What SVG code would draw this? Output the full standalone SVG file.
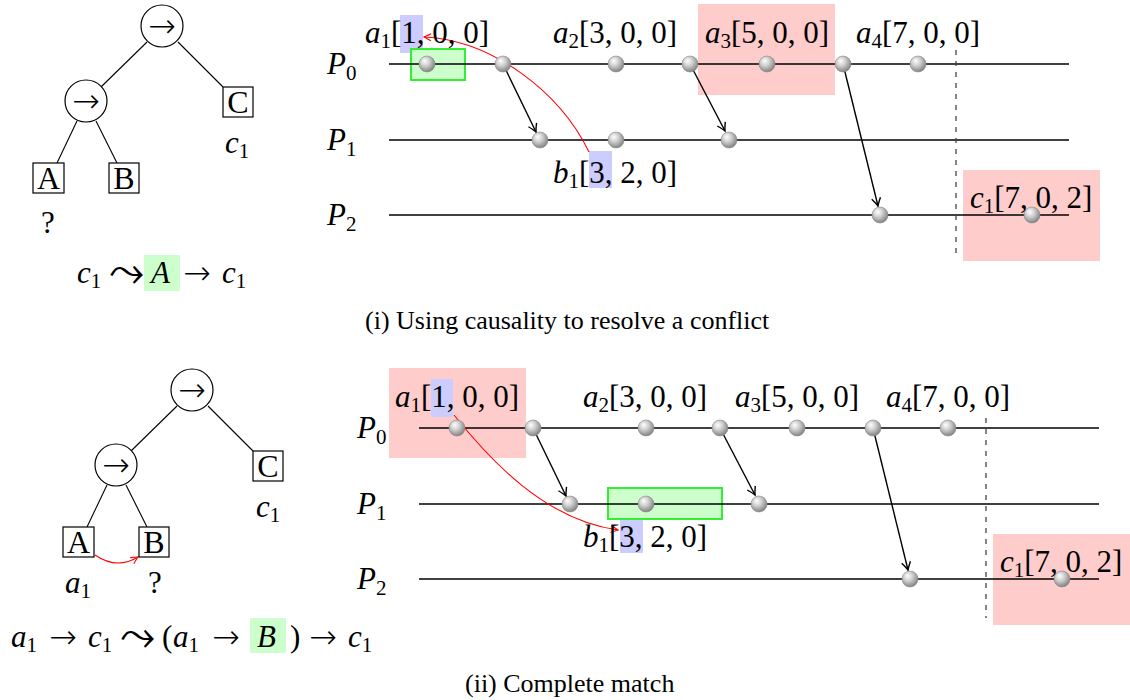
<svg xmlns="http://www.w3.org/2000/svg" width="1130" height="700" viewBox="0 0 1130 700">
<style>
text{font-family:"Liberation Serif","DejaVu Serif",serif;fill:#000}
.lbl{font-size:31px}
.it{font-style:italic}
.sub{font-size:21px;font-style:normal}
.arr{font-family:"DejaVu Sans",sans-serif;font-weight:200;font-size:33px}
.sym{font-family:"DejaVu Sans",sans-serif;font-weight:200;font-size:44px}
.box{font-size:32px}
.cap{font-size:26px}
.tl{stroke:#000;stroke-width:1.4}
.edge{stroke:#000;stroke-width:1.1;fill:none}
.node{fill:#fff;stroke:#000;stroke-width:1.2}
.ball{fill:url(#ball);stroke:#8a8a8a;stroke-width:0.6}
.msg{stroke:#000;stroke-width:1.4;fill:none;marker-end:url(#ah)}
.red{stroke:#f00;stroke-width:1.1;fill:none;marker-end:url(#rah)}
.dash{stroke:#444;stroke-width:1.3;stroke-dasharray:5 6}
.hr{fill:#ffcccc}
.hb{fill:#ccccff}
.hg{fill:#ccffcc;stroke:#33ee33;stroke-width:2}
.hgf{fill:#ccffcc}
</style>
<defs>
<radialGradient id="ball" cx="0.42" cy="0.38" r="0.62" fx="0.35" fy="0.3">
<stop offset="0" stop-color="#ffffff"/>
<stop offset="0.45" stop-color="#d0d0d0"/>
<stop offset="1" stop-color="#838383"/>
</radialGradient>
<marker id="ah" viewBox="-10 -6 12 12" markerWidth="12" markerHeight="12" refX="0" refY="0" orient="auto" markerUnits="userSpaceOnUse">
<path d="M-8,-4.5 Q-2.5,-1 0,0 Q-2.5,1 -8,4.5" fill="none" stroke="#000" stroke-width="1.4"/>
</marker>
<marker id="rah" viewBox="-10 -6 12 12" markerWidth="12" markerHeight="12" refX="0" refY="0" orient="auto" markerUnits="userSpaceOnUse">
<path d="M-7,-3.5 Q-2,-0.8 0,0 Q-2,0.8 -7,3.5" fill="none" stroke="#f00" stroke-width="1.2"/>
</marker>
</defs>

<!-- ============ Panel (i) ============ -->
<g id="panel1">
  <g id="tree1">
    <g id="tree1-edges">
      <line class="edge" x1="147" y1="42" x2="101" y2="87"/>
      <line class="edge" x1="178" y1="42" x2="223" y2="87"/>
      <line class="edge" x1="77" y1="121" x2="57" y2="163"/>
      <line class="edge" x1="96" y1="121" x2="117" y2="163"/>
    </g>
    <g id="t1-root"><circle class="node" cx="162" cy="26" r="21"/><text class="arr" x="162" y="37" text-anchor="middle">→</text></g>
    <g id="t1-seq"><circle class="node" cx="86" cy="101" r="21"/><text class="arr" x="86" y="112" text-anchor="middle">→</text></g>
    <g id="t1-A"><rect class="node" x="33" y="163" width="31" height="30"/><text class="box" x="48.5" y="189" text-anchor="middle">A</text></g>
    <g id="t1-B"><rect class="node" x="109" y="163" width="30" height="30"/><text class="box" x="124" y="189" text-anchor="middle">B</text></g>
    <g id="t1-C"><rect class="node" x="223" y="87" width="30" height="30"/><text class="box" x="238" y="113" text-anchor="middle">C</text></g>
    <text class="lbl it" x="225" y="153">c<tspan class="sub" dy="5">1</tspan></text>
    <text class="lbl" x="48" y="233" text-anchor="middle">?</text>
  </g>

  <g id="formula1">
    <rect class="hgf" x="144" y="255" width="36" height="36"/>
    <text class="lbl it" x="77" y="283">c<tspan class="sub" dy="5">1</tspan></text>
    <text class="sym" x="126" y="286" text-anchor="middle">⤳</text>
    <text class="lbl it" x="151" y="283">A</text>
    <text class="arr" x="197" y="284" text-anchor="middle">→</text>
    <text class="lbl it" x="222" y="283">c<tspan class="sub" dy="5">1</tspan></text>
  </g>

  <g id="highlights1">
    <rect class="hr" x="698" y="4" width="137" height="91"/>
    <rect class="hr" x="963" y="170" width="137" height="91"/>
    <rect class="hb" x="400" y="15" width="23" height="38"/>
    <rect class="hb" x="589" y="151" width="23" height="37"/>
    <rect class="hg" x="411" y="49" width="54" height="31"/>
  </g>

  <g id="processes1">
    <line class="tl" x1="389" y1="64" x2="1069" y2="64"/>
    <line class="tl" x1="389" y1="140" x2="1069" y2="140"/>
    <line class="tl" x1="389" y1="215" x2="1069" y2="215"/>
    <line class="dash" x1="956" y1="50" x2="956" y2="256"/>
    <text class="lbl it" x="327" y="74">P<tspan class="sub" dy="6">0</tspan></text>
    <text class="lbl it" x="327" y="150">P<tspan class="sub" dy="6">1</tspan></text>
    <text class="lbl it" x="327" y="225">P<tspan class="sub" dy="6">2</tspan></text>
  </g>

  <g id="connectors1">
    <line class="msg" x1="503" y1="64" x2="536" y2="132"/>
    <line class="msg" x1="690" y1="64" x2="725" y2="131"/>
    <line class="msg" x1="843" y1="64" x2="878" y2="206"/>
    <path class="red" d="M589,152 C560,92 492,40 424,37"/>
  </g>

  <g id="events1">
    <circle id="e1-a1" class="ball" cx="427" cy="64" r="8"/>
    <circle class="ball" cx="503" cy="64" r="8"/>
    <circle id="e1-a2" class="ball" cx="616" cy="64" r="8"/>
    <circle class="ball" cx="690" cy="64" r="8"/>
    <circle id="e1-a3" class="ball" cx="767" cy="64" r="8"/>
    <circle class="ball" cx="843" cy="64" r="8"/>
    <circle id="e1-a4" class="ball" cx="918" cy="64" r="8"/>
    <circle class="ball" cx="540" cy="140" r="8"/>
    <circle id="e1-b1" class="ball" cx="616" cy="140" r="8"/>
    <circle class="ball" cx="729" cy="140" r="8"/>
    <circle class="ball" cx="880" cy="215" r="8"/>
    <circle id="e1-c1" class="ball" cx="1032" cy="215" r="8"/>
  </g>

  <g id="labels1">
    <text class="lbl" x="365" y="43"><tspan class="it">a</tspan><tspan class="sub" dy="5">1</tspan><tspan dy="-5">[1, 0, 0]</tspan></text>
    <text class="lbl" x="553" y="43"><tspan class="it">a</tspan><tspan class="sub" dy="5">2</tspan><tspan dy="-5">[3, 0, 0]</tspan></text>
    <text class="lbl" x="705" y="43"><tspan class="it">a</tspan><tspan class="sub" dy="5">3</tspan><tspan dy="-5">[5, 0, 0]</tspan></text>
    <text class="lbl" x="856" y="43"><tspan class="it">a</tspan><tspan class="sub" dy="5">4</tspan><tspan dy="-5">[7, 0, 0]</tspan></text>
    <text class="lbl" x="553" y="183"><tspan class="it">b</tspan><tspan class="sub" dy="5">1</tspan><tspan dy="-5">[3, 2, 0]</tspan></text>
    <text class="lbl" x="970" y="208"><tspan class="it">c</tspan><tspan class="sub" dy="5">1</tspan><tspan dy="-5">[7, 0, 2]</tspan></text>
  </g>

  <text class="cap" x="365" y="329">(i) Using causality to resolve a conflict</text>
</g>

<!-- ============ Panel (ii) ============ -->
<g id="panel2">
 <g transform="translate(30,364)">
  <g id="tree2">
    <g id="tree2-edges">
      <line class="edge" x1="147" y1="42" x2="101" y2="87"/>
      <line class="edge" x1="178" y1="42" x2="223" y2="87"/>
      <line class="edge" x1="77" y1="121" x2="57" y2="163"/>
      <line class="edge" x1="96" y1="121" x2="117" y2="163"/>
      <path class="red" d="M65,191 Q87,206 108,193"/>
    </g>
    <g id="t2-root"><circle class="node" cx="162" cy="26" r="21"/><text class="arr" x="162" y="37" text-anchor="middle">→</text></g>
    <g id="t2-seq"><circle class="node" cx="86" cy="101" r="21"/><text class="arr" x="86" y="112" text-anchor="middle">→</text></g>
    <g id="t2-A"><rect class="node" x="33" y="163" width="31" height="30"/><text class="box" x="48.5" y="189" text-anchor="middle">A</text></g>
    <g id="t2-B"><rect class="node" x="109" y="163" width="30" height="30"/><text class="box" x="124" y="189" text-anchor="middle">B</text></g>
    <g id="t2-C"><rect class="node" x="223" y="87" width="30" height="30"/><text class="box" x="238" y="113" text-anchor="middle">C</text></g>
    <text class="lbl it" x="226" y="153">c<tspan class="sub" dy="5">1</tspan></text>
    <text class="lbl it" x="35" y="229">a<tspan class="sub" dy="5">1</tspan></text>
    <text class="lbl" x="125" y="229" text-anchor="middle">?</text>
  </g>

  <g id="highlights2">
    <rect class="hr" x="359" y="4" width="137" height="90"/>
    <rect class="hr" x="963" y="170" width="137" height="91"/>
    <rect class="hb" x="401" y="15" width="22" height="38"/>
    <rect class="hb" x="590" y="155" width="23" height="34"/>
    <rect class="hg" x="578" y="124" width="114" height="31"/>
  </g>

  <g id="processes2">
    <line class="tl" x1="389" y1="64" x2="1069" y2="64"/>
    <line class="tl" x1="389" y1="140" x2="1069" y2="140"/>
    <line class="tl" x1="389" y1="215" x2="1069" y2="215"/>
    <line class="dash" x1="956" y1="54" x2="956" y2="254"/>
    <text class="lbl it" x="327" y="74">P<tspan class="sub" dy="6">0</tspan></text>
    <text class="lbl it" x="327" y="150">P<tspan class="sub" dy="6">1</tspan></text>
    <text class="lbl it" x="327" y="225">P<tspan class="sub" dy="6">2</tspan></text>
  </g>

  <g id="connectors2">
    <line class="msg" x1="503" y1="64" x2="536" y2="132"/>
    <line class="msg" x1="690" y1="64" x2="725" y2="131"/>
    <line class="msg" x1="843" y1="64" x2="878" y2="206"/>
    <path class="red" d="M424,51 C460,96 515,156 588,166"/>
  </g>

  <g id="events2">
    <circle id="e2-a1" class="ball" cx="427" cy="64" r="8"/>
    <circle class="ball" cx="503" cy="64" r="8"/>
    <circle id="e2-a2" class="ball" cx="616" cy="64" r="8"/>
    <circle class="ball" cx="690" cy="64" r="8"/>
    <circle id="e2-a3" class="ball" cx="767" cy="64" r="8"/>
    <circle class="ball" cx="843" cy="64" r="8"/>
    <circle id="e2-a4" class="ball" cx="918" cy="64" r="8"/>
    <circle class="ball" cx="540" cy="140" r="8"/>
    <circle id="e2-b1" class="ball" cx="616" cy="140" r="8"/>
    <circle class="ball" cx="729" cy="140" r="8"/>
    <circle class="ball" cx="880" cy="215" r="8"/>
    <circle id="e2-c1" class="ball" cx="1032" cy="215" r="8"/>
  </g>

  <g id="labels2">
    <text class="lbl" x="365" y="43"><tspan class="it">a</tspan><tspan class="sub" dy="5">1</tspan><tspan dy="-5">[1, 0, 0]</tspan></text>
    <text class="lbl" x="553" y="43"><tspan class="it">a</tspan><tspan class="sub" dy="5">2</tspan><tspan dy="-5">[3, 0, 0]</tspan></text>
    <text class="lbl" x="705" y="43"><tspan class="it">a</tspan><tspan class="sub" dy="5">3</tspan><tspan dy="-5">[5, 0, 0]</tspan></text>
    <text class="lbl" x="856" y="43"><tspan class="it">a</tspan><tspan class="sub" dy="5">4</tspan><tspan dy="-5">[7, 0, 0]</tspan></text>
    <text class="lbl" x="553" y="183"><tspan class="it">b</tspan><tspan class="sub" dy="5">1</tspan><tspan dy="-5">[3, 2, 0]</tspan></text>
    <text class="lbl" x="970" y="208"><tspan class="it">c</tspan><tspan class="sub" dy="5">1</tspan><tspan dy="-5">[7, 0, 2]</tspan></text>
  </g>
 </g>

  <g id="formula2">
    <rect class="hgf" x="250" y="618" width="36" height="35"/>
    <text class="lbl it" x="11" y="647">a<tspan class="sub" dy="5">1</tspan></text>
    <text class="arr" x="63" y="648" text-anchor="middle">→</text>
    <text class="lbl it" x="88" y="647">c<tspan class="sub" dy="5">1</tspan></text>
    <text class="sym" x="137" y="650" text-anchor="middle">⤳</text>
    <text class="lbl" x="162" y="647">(</text>
    <text class="lbl it" x="173" y="647">a<tspan class="sub" dy="5">1</tspan></text>
    <text class="arr" x="226" y="648" text-anchor="middle">→</text>
    <text class="lbl it" x="257" y="647">B</text>
    <text class="lbl" x="290" y="647">)</text>
    <text class="arr" x="323" y="648" text-anchor="middle">→</text>
    <text class="lbl it" x="348" y="647">c<tspan class="sub" dy="5">1</tspan></text>
  </g>

  <text class="cap" x="465" y="692">(ii) Complete match</text>
</g>
</svg>
